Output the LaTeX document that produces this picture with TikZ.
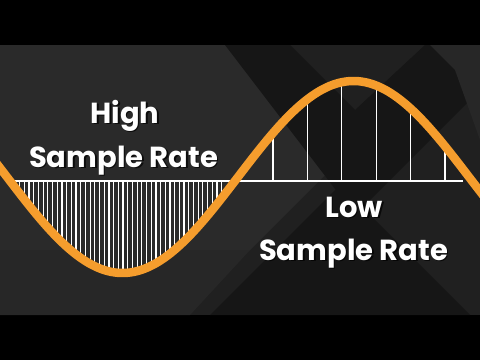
\documentclass[tikz,border=0pt]{standalone}
\usepackage{fontspec}
\setmainfont{Poppins}
\definecolor{wave}{RGB}{245,157,45}
\definecolor{bgbase}{RGB}{32,32,32}
\definecolor{bglight}{RGB}{42,42,42}
\definecolor{bgdark}{RGB}{22,22,22}
\begin{document}
\begin{tikzpicture}[x=1pt,y=1pt,
  lbl/.style={text=white,font=\bfseries\fontsize{29}{29}\selectfont,inner sep=0pt,anchor=base},
  shadowlbl/.style={text=black,opacity=0.7,font=\bfseries\fontsize{29}{29}\selectfont,inner sep=0pt,anchor=base},
  sample/.style={white,line width=1.2pt},
  axisline/.style={white,line width=2pt},
  sinewave/.style={wave,line width=8.5pt}
]
\useasboundingbox (0,0) rectangle (480,360);
\begin{scope}[shift={(0,360)},yscale=-1]
  % letterbox and background
  \fill[black] (0,0) rectangle (480,360);
  \fill[bgbase] (0,45) rectangle (480,315);
  \fill[bglight] (0,45) -- (225,45) -- (340,160) -- (250,250) -- (0,250) -- cycle;
  \fill[bgdark] (225,45) -- (290,45) -- (355,110) -- (425,45) -- (480,45) -- (480,90) -- (355,215) -- cycle;
  \fill[bglight!70!bgbase] (0,250) -- (250,250) -- (190,315) -- (0,315) -- cycle;
  \fill[bgdark] (340,185) -- (470,315) -- (210,315) -- cycle;
  \fill[bglight!70!bgbase] (430,45) -- (480,45) -- (480,140) -- (455,70) -- cycle;
  % axis
  \draw[axisline] (12,180.5) -- (463,180.5);
  % dense samples
  \foreach \i in {0,...,44}{
    \pgfmathsetmacro{\xx}{15+4.697*\i}
    \pgfmathsetmacro{\yy}{177+96*sin(0.779221*(\xx-7))}
    \draw[sample] (\xx,180.5) -- (\xx,\yy);
  }
  % sparse samples
  \foreach \i in {0,...,5}{
    \pgfmathsetmacro{\xx}{273+34.4*\i}
    \pgfmathsetmacro{\yy}{177+96*sin(0.779221*(\xx-7))}
    \draw[sample] (\xx,180.5) -- (\xx,\yy);
  }
  % wave
  \draw[sinewave,domain=-20:500,samples=200,smooth,variable=\t]
    plot (\t,{177+96*sin(0.779221*(\t-7))});
  % labels
  \node[shadowlbl] at (126.5,124.5) {High};
  \node[lbl] (high) at (125,123) {High};
  \node[shadowlbl] at (125,168.5) {Sample Rate};
  \node[lbl] (highrate) at (123.5,167) {Sample Rate};
  \node[shadowlbl] at (355.5,218.5) {Low};
  \node[lbl] (low) at (354,217) {Low};
  \node[shadowlbl] at (355,261.5) {Sample Rate};
  \node[lbl] (lowrate) at (353.5,260) {Sample Rate};
\end{scope}
\end{tikzpicture}
\end{document}
